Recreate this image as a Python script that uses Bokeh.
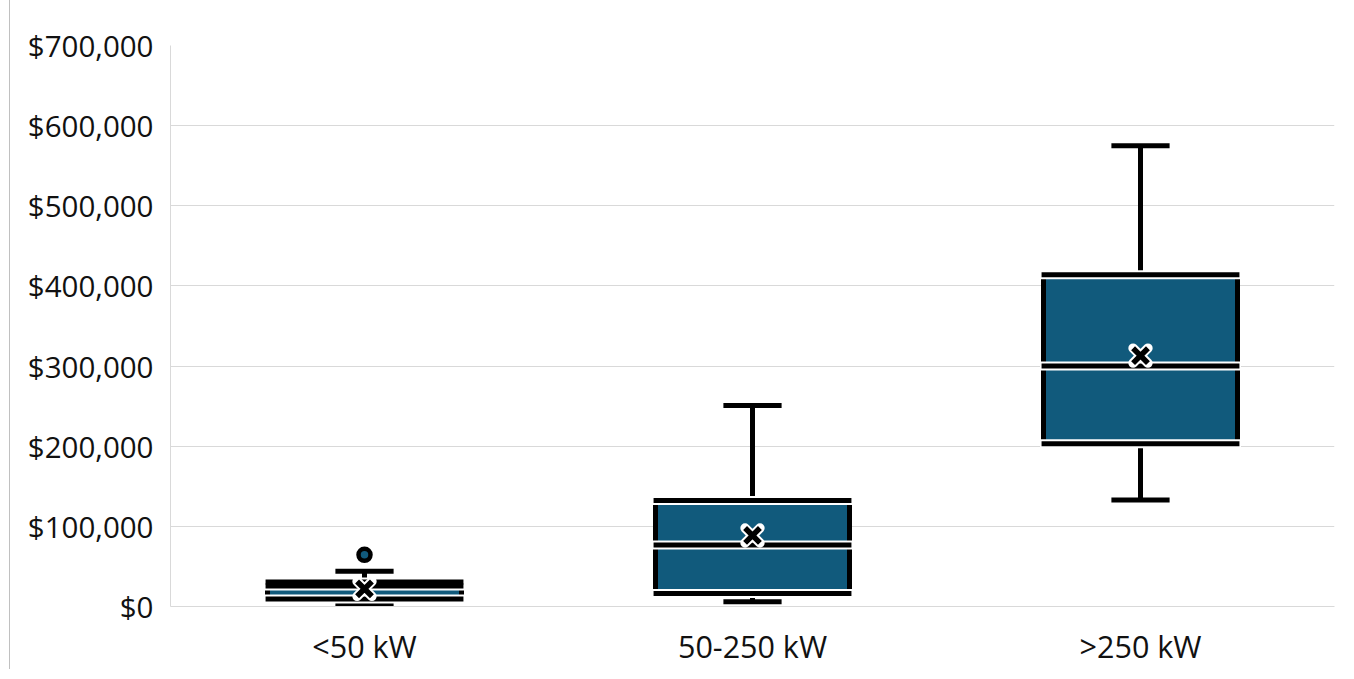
from bokeh.plotting import figure
from bokeh.models import ColumnDataSource, FactorRange, Range1d, FixedTicker, NumeralTickFormatter
from bokeh.embed import file_html
from bokeh.resources import INLINE

categories = ["<50 kW", "50-250 kW", ">250 kW"]
lower_whisker = [2500, 5800, 133000]
q1 = [9400, 16200, 203000]
median = [25500, 76800, 300000]
q3 = [30500, 132300, 414000]
upper_whisker = [44000, 250800, 575000]
mean = [22000, 88600, 313000]
outlier_cat = ["<50 kW"]
outlier_val = [64500]
y_ticks = [0, 100000, 200000, 300000, 400000, 500000, 600000, 700000]

BOX_FILL = "#115a7c"
GRID = "#d9d9d9"
FONT = "Open Sans"

src = ColumnDataSource(dict(cat=categories, lower=lower_whisker, q1=q1, med=median,
                            q3=q3, upper=upper_whisker, mean=mean))
osrc = ColumnDataSource(dict(cat=outlier_cat, val=outlier_val))

p = figure(x_range=FactorRange(factors=categories), y_range=Range1d(0, 700000),
           width=1332, height=669, output_backend="svg", toolbar_location=None,
           min_border_left=160, min_border_right=8, min_border_top=45, min_border_bottom=61)

p.outline_line_color = None
p.xgrid.grid_line_color = None
p.ygrid.grid_line_color = GRID
p.ygrid.grid_line_width = 1
p.yaxis.ticker = FixedTicker(ticks=y_ticks)
p.yaxis.formatter = NumeralTickFormatter(format="$0,0")
for ax in (p.xaxis[0], p.yaxis[0]):
    ax.axis_line_color = GRID
    ax.axis_line_width = 1
    ax.major_tick_line_color = None
    ax.minor_tick_line_color = None
    ax.major_tick_out = 0
    ax.major_tick_in = 0
    ax.minor_tick_out = 0
    ax.major_label_text_font = FONT
    ax.major_label_text_color = "#111111"
p.yaxis.major_label_text_font_size = "29.5px"
p.xaxis.major_label_text_font_size = "30.5px"
p.yaxis.major_label_standoff = 17
p.xaxis.major_label_standoff = 18

# whisker stems
p.segment(x0="cat", y0="q3", x1="cat", y1="upper", line_color="black", line_width=5, source=src)
p.segment(x0="cat", y0="lower", x1="cat", y1="q1", line_color="black", line_width=5, source=src)
# caps
for col in ("upper", "lower"):
    p.rect(x="cat", y=col, width=0.15, height=5, height_units="screen",
           fill_color="black", line_color=None, source=src)

# box
p.vbar(x="cat", bottom="q1", top="q3", width=0.5, fill_color=BOX_FILL,
       line_color="black", line_width=5, source=src)

# horizontal edges: white halo first, then black
for col in ("q3", "q1", "med"):
    p.rect(x="cat", y=col, width=0.518, height=9, height_units="screen",
           fill_color="white", line_color=None, source=src)
for col in ("q3", "q1", "med"):
    p.rect(x="cat", y=col, width=0.51, height=5, height_units="screen",
           fill_color="black", line_color=None, source=src)

# mean markers
p.scatter(x="cat", y="mean", marker="x", size=21, line_color="white", line_width=9.5,
          line_cap="round", source=src)
p.scatter(x="cat", y="mean", marker="x", size=21, line_color="black", line_width=5.5,
          source=src)

# outlier
p.scatter(x="cat", y="val", marker="circle", size=12, fill_color=BOX_FILL,
          line_color="black", line_width=4.5, source=osrc)

p.styles = {"margin-left": "9px", "border-left": "1px solid #c0c0c0"}

open("out.html", "w").write(file_html(p, INLINE))
